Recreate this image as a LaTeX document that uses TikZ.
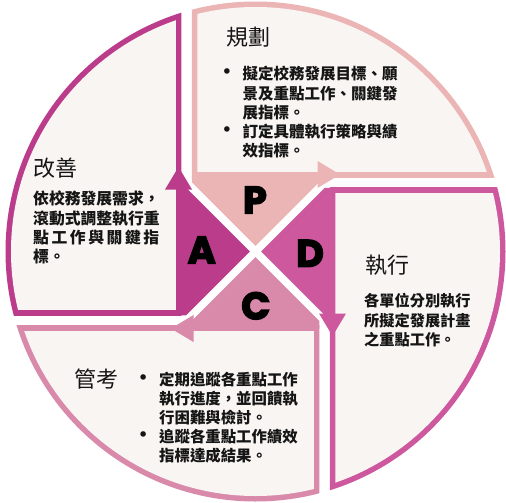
\documentclass[tikz,border=0pt]{standalone}
\usepackage{fontspec}
\newfontfamily\cjk{Noto Sans CJK TC}
\newfontfamily\letterfont{Poppins}[BoldFeatures={FakeBold=4}]
\newfontfamily\bulletfont{DejaVu Sans}
\definecolor{colP}{HTML}{EBB5B5}
\definecolor{colD}{HTML}{CE589E}
\definecolor{colC}{HTML}{D98AAB}
\definecolor{colA}{HTML}{BB3C8B}
\definecolor{boxfill}{HTML}{F9F5F3}
\definecolor{ink}{HTML}{151515}
\newcommand\drawquad[2]{%
\begin{scope}[shift={(255.5,251.5)},rotate=#1]
  \begin{scope}
    \clip (-63.75,-74.25) -- (260,-74.25) -- (260,-260) -- (-63.75,-260) -- cycle;
    \fill[#2] (0,0) circle[radius=250pt];
  \end{scope}
  \begin{scope}
    \clip (-58.25,-79.75) -- (260,-79.75) -- (260,-260) -- (-58.25,-260) -- cycle;
    \fill[boxfill] (0,0) circle[radius=244.5pt];
  \end{scope}
  \fill[#2] (-63.75,-77) -- (-63.75,-69.4) -- (0,-5.66) -- (71.34,-77) -- cycle;
  \fill[#2] (62,-90.5) -- (84.5,-77) -- (62,-63.5) -- cycle;
\end{scope}}
\begin{document}
\begin{tikzpicture}[x=1pt,y=-1pt,
  title/.style={inner sep=0pt,text=ink,font=\cjk\fontsize{22}{24}\selectfont},
  letter/.style={inner sep=0pt,text=black,font=\letterfont\bfseries\fontsize{38}{40}\selectfont},
  bodyP/.style={inner sep=0pt,anchor=west,text=ink,font=\cjk\bfseries\fontsize{15.5}{18}\selectfont},
  bodyA/.style={inner sep=0pt,anchor=west,text=ink,font=\cjk\bfseries\fontsize{15.8}{18}\selectfont},
  bodyD/.style={inner sep=0pt,anchor=west,text=ink,font=\cjk\bfseries\fontsize{15.2}{18}\selectfont},
  bodyC/.style={inner sep=0pt,anchor=west,text=ink,font=\cjk\bfseries\fontsize{15.4}{18}\selectfont},
  bullet/.style={inner sep=0pt,text=ink,font=\bulletfont\fontsize{19}{20}\selectfont}]
\useasboundingbox (0,0) rectangle (506,503);
\fill[white] (0,0) rectangle (506,503);
\drawquad{0}{colP}
\drawquad{-90}{colD}
\drawquad{-180}{colC}
\drawquad{90}{colA}
% letters
\node[letter] (lP) at (255,200) {P};
\node[letter] (lD) at (310,253.3) {D};
\node[letter] (lC) at (255.8,305.8) {C};
\node[letter] (lA) at (201.7,250) {A};
% titles
\node[title] (tP) at (248.5,36.7) {規劃};
\node[title] (tA) at (55.8,168.3) {改善};
\node[title] (tD) at (387.5,265) {執行};
\node[title] (tC) at (96.7,379.2) {管考};
% P text
\node[bullet] (pb1) at (227,74) {•};
\node[bullet] (pb2) at (227,132) {•};
\node[bodyP] (p1) at (242.5,74) {擬定校務發展目標、願};
\node[bodyP] (p2) at (242.5,93.3) {景及重點工作、關鍵發};
\node[bodyP] (p3) at (242.5,112.6) {展指標。};
\node[bodyP] (p4) at (242.5,132) {訂定具體執行策略與績};
\node[bodyP] (p5) at (242.5,151) {效指標。};
% A text
\node[bodyA] (a1) at (33,198.3) {依校務發展需求，};
\node[bodyA] (a2) at (33,218.3) {滾動式調整執行重};
\node[bodyA] (a3) at (33,237.3) {\makebox[126pt][s]{點\hfill 工\hfill 作\hfill 與\hfill 關\hfill 鍵\hfill 指}};
\node[bodyA] (a4) at (33,256) {標。};
% D text
\node[bodyD] (d1) at (364,300.7) {各單位分別執行};
\node[bodyD] (d2) at (364,320.7) {所擬定發展計畫};
\node[bodyD] (d3) at (364,340) {之重點工作。};
% C text
\node[bullet] (cb1) at (143.3,380) {•};
\node[bullet] (cb2) at (143.3,436.7) {•};
\node[bodyC] (c1) at (159,380) {定期追蹤各重點工作};
\node[bodyC] (c2) at (159,399) {執行進度，並回饋執};
\node[bodyC] (c3) at (159,417.7) {行困難與檢討。};
\node[bodyC] (c4) at (159,436.7) {追蹤各重點工作績效};
\node[bodyC] (c5) at (159,455.7) {指標達成結果。};
\end{tikzpicture}
\end{document}
